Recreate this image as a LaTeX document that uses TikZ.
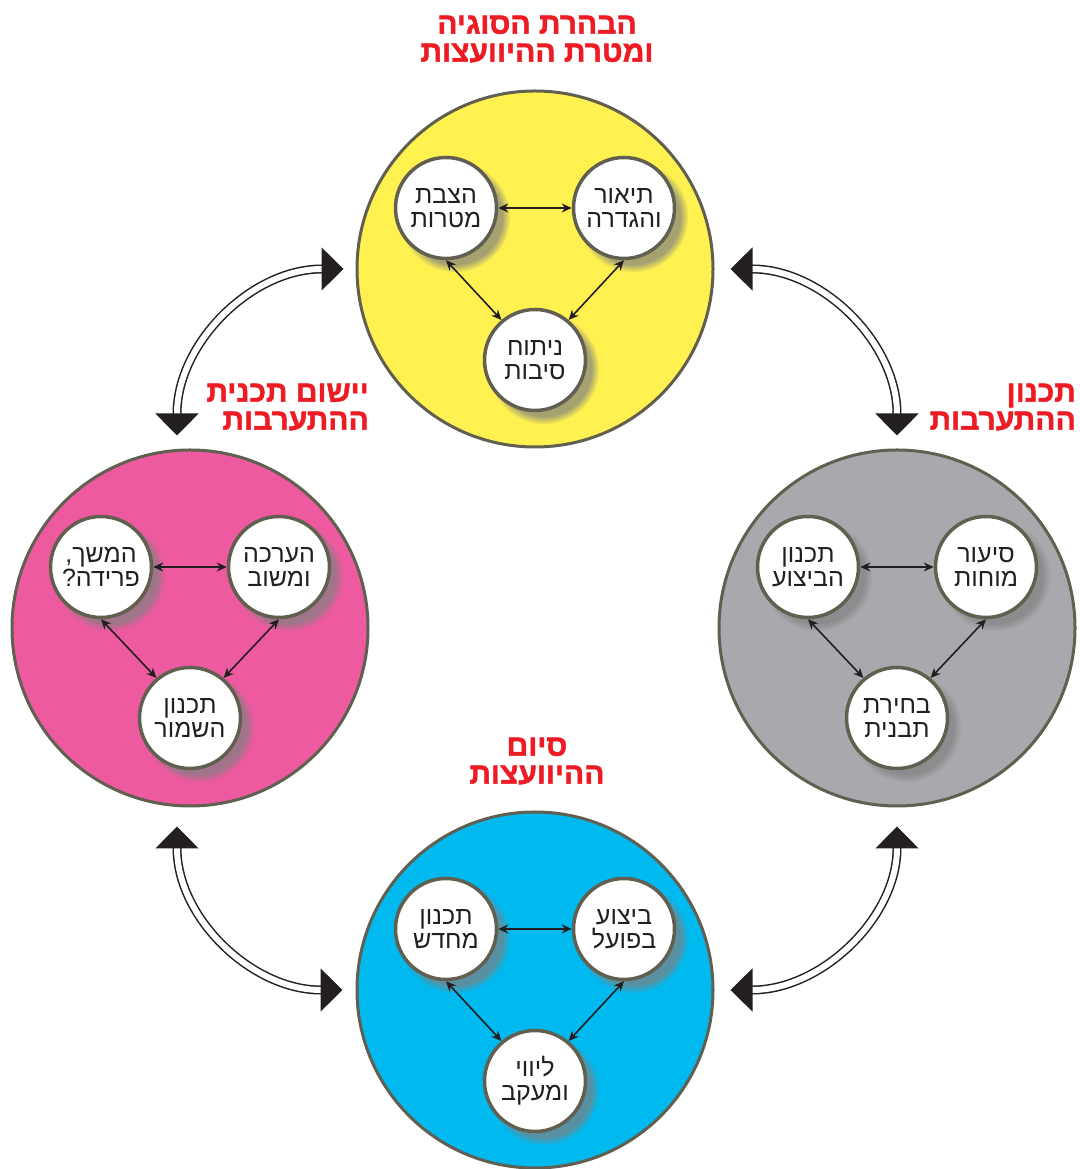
\documentclass[tikz,border=0pt]{standalone}
\usepackage{fontspec}
\newfontfamily\hebfont[Script=Hebrew]{Liberation Sans}
\newfontfamily\hebheavy[Script=Hebrew, FakeBold=1.6]{Liberation Sans Bold}
\TeXXeTstate=1
\usetikzlibrary{arrows.meta,shadows}
\definecolor{hbyellow}{HTML}{FFF150}
\definecolor{hbgray}{HTML}{A7A9AC}
\definecolor{hbpink}{HTML}{EE5A9F}
\definecolor{hbblue}{HTML}{00B9EF}
\definecolor{hbrim}{HTML}{615F50}
\definecolor{hbink}{HTML}{231F20}
\definecolor{hbred}{HTML}{ED1C24}
\newcommand{\rtlline}[1]{\beginR #1\endR}

\begin{document}
\begin{tikzpicture}[x=1pt, y=1pt, >={Stealth[length=10pt,width=9pt]},
  phase/.style={circle, draw=hbrim, line width=3pt, minimum size=356pt, inner sep=0pt},
  sub/.style={circle, draw=hbrim, fill=white, line width=3.5pt, minimum size=101pt, inner sep=0pt,
    align=center, text=hbink, font=\hebfont\fontsize{25}{24}\selectfont,
    circular drop shadow={shadow xshift=8pt, shadow yshift=-8pt, shadow scale=1.1, opacity=0.7}},
  link/.style={<->, draw=hbink, line width=1.6pt},
  loopline/.style={draw=hbink, line width=1.5pt, double=white, double distance=6pt,
    {Triangle[length=22pt,width=43pt]}-{Triangle[length=22pt,width=43pt]}},
  phasename/.style={text=hbred, align=center, inner sep=0pt, font=\hebheavy\fontsize{30}{28}\selectfont}]
  \useasboundingbox (0,0) rectangle (1079,1169);

  % the four phases
  \node[phase, fill=hbyellow] (clarify) at (535,900) {};
  \node[phase, fill=hbgray] (plan) at (897,541) {};
  \node[phase, fill=hbpink] (impl) at (190,541) {};
  \node[phase, fill=hbblue] (close) at (535,179) {};

  % phase names
  \node[phasename] (t-clarify) at (537,1130) {\rtlline{הבהרת הסוגיה}\\\rtlline{ומטרת ההיוועצות}};
  \node[phasename, anchor=east, align=right] (t-plan) at (1076,762) {\rtlline{תכנון}\\\rtlline{ההתערבות}};
  \node[phasename, anchor=east, align=right] (t-impl) at (369,762) {\rtlline{יישום תכנית}\\\rtlline{ההתערבות}};
  \node[phasename] (t-close) at (537,408) {\rtlline{סיום}\\\rtlline{ההיוועצות}};

  % steps inside each phase
  \node[sub] (clarify1) at (446,961) {\rtlline{הצבת}\\\rtlline{מטרות}};
  \node[sub] (clarify2) at (624,961) {\rtlline{תיאור}\\\rtlline{והגדרה}};
  \node[sub] (clarify3) at (535,809) {\rtlline{ניתוח}\\\rtlline{סיבות}};

  \node[sub] (plan1) at (808,602) {\rtlline{תכנון}\\\rtlline{הביצוע}};
  \node[sub] (plan2) at (986,602) {\rtlline{סיעור}\\\rtlline{מוחות}};
  \node[sub] (plan3) at (897,451) {\rtlline{בחירת}\\\rtlline{תבנית}};

  \node[sub] (impl1) at (101,602) {\rtlline{המשך,}\\\rtlline{פרידה?}};
  \node[sub] (impl2) at (279,602) {\rtlline{הערכה}\\\rtlline{ומשוב}};
  \node[sub] (impl3) at (190,451) {\rtlline{תכנון}\\\rtlline{השמור}};

  \node[sub] (close1) at (446,240) {\rtlline{תכנון}\\\rtlline{מחדש}};
  \node[sub] (close2) at (624,240) {\rtlline{ביצוע}\\\rtlline{בפועל}};
  \node[sub] (close3) at (535,88) {\rtlline{ליווי}\\\rtlline{ומעקב}};

  % links between the steps
  \draw[link] (clarify1) -- (clarify2);
  \draw[link] (clarify1.south) -- (clarify3.130);
  \draw[link] (clarify2.south) -- (clarify3.50);
  \draw[link] (plan1) -- (plan2);
  \draw[link] (plan1.south) -- (plan3.130);
  \draw[link] (plan2.south) -- (plan3.50);
  \draw[link] (impl1) -- (impl2);
  \draw[link] (impl1.south) -- (impl3.130);
  \draw[link] (impl2.south) -- (impl3.50);
  \draw[link] (close1) -- (close2);
  \draw[link] (close1.south) -- (close3.130);
  \draw[link] (close2.south) -- (close3.50);

  % cycle between phases
  \coordinate (yp1) at ([xshift=-12pt]clarify.west);
  \coordinate (yp2) at ([xshift=-13pt,yshift=13pt]impl.north);
  \coordinate (yg1) at ([xshift=16pt]clarify.east);
  \coordinate (yg2) at ([yshift=13pt]plan.north);
  \coordinate (pb1) at ([xshift=-13pt,yshift=-19pt]impl.south);
  \coordinate (pb2) at ([xshift=-13pt]close.west);
  \coordinate (gb1) at ([yshift=-19pt]plan.south);
  \coordinate (gb2) at ([xshift=16pt]close.east);
  \draw[loopline] (yp1) to[out=180,in=90] (yp2);
  \draw[loopline] (yg1) to[out=0,in=90] (yg2);
  \draw[loopline] (pb1) to[out=-90,in=180] (pb2);
  \draw[loopline] (gb1) to[out=-90,in=0] (gb2);
\end{tikzpicture}
\end{document}
